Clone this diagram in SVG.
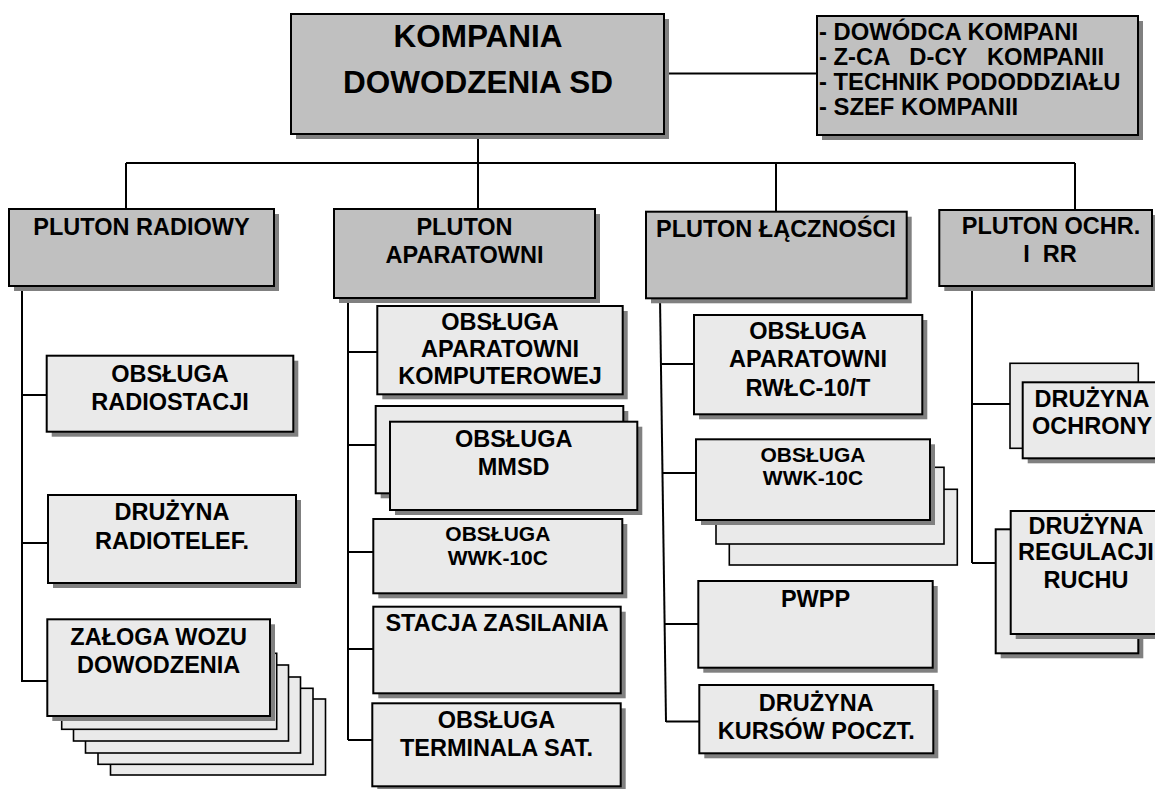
<svg xmlns="http://www.w3.org/2000/svg" width="1155" height="789" viewBox="0 0 1155 789">
<style>
.hdr{fill:#c0c0c0;stroke:#000;stroke-width:2}
.box{fill:#eaeaea;stroke:#000;stroke-width:2}
.bk{fill:#eaeaea;stroke:#000;stroke-width:1.6}
.shd{fill:#808080}
.ln{stroke:#000;stroke-width:2;fill:none}
text{font-family:"Liberation Sans",Arial,sans-serif;font-weight:bold;fill:#000;font-size:23.5px;text-anchor:middle}
.title{font-size:31.5px}
.sm{font-size:21px}
.l{text-anchor:start;font-size:23.8px}
</style>
<rect width="1155" height="789" fill="#fff"/>
<g id="connectors" class="ln">
<line x1="664" y1="73.5" x2="817" y2="73.5"/>
<line x1="478" y1="134" x2="478" y2="209"/>
<line x1="126" y1="163" x2="1075" y2="163"/>
<line x1="126" y1="163" x2="126" y2="209"/>
<line x1="776" y1="163" x2="776" y2="212"/>
<line x1="1075" y1="163" x2="1075" y2="210"/>
<line x1="22" y1="286" x2="22" y2="682"/>
<line x1="22" y1="395" x2="47" y2="395"/>
<line x1="22" y1="543" x2="48" y2="543"/>
<line x1="22" y1="681" x2="47" y2="681"/>
<line x1="348" y1="298" x2="348" y2="740"/>
<line x1="348" y1="352" x2="377" y2="352"/>
<line x1="348" y1="445" x2="376" y2="445"/>
<line x1="348" y1="552" x2="373" y2="552"/>
<line x1="348" y1="649" x2="373" y2="649"/>
<line x1="348" y1="740" x2="372" y2="740"/>
<line x1="660" y1="298" x2="666" y2="722"/>
<line x1="661.5" y1="364" x2="694" y2="364"/>
<line x1="663" y1="473" x2="696" y2="473"/>
<line x1="665" y1="624" x2="698" y2="624"/>
<line x1="666" y1="721.5" x2="699" y2="721.5"/>
<line x1="972" y1="286" x2="972" y2="563"/>
<line x1="972" y1="404" x2="1010" y2="404"/>
<line x1="972" y1="563" x2="996" y2="563"/>
</g>
<g id="kompania">
<rect class="shd" x="296" y="19" width="373" height="120"/>
<rect class="hdr" x="291" y="14" width="373" height="120"/>
<text class="title" x="478" y="46.5">KOMPANIA</text>
<text class="title" x="478" y="92.5">DOWODZENIA SD</text>
</g>
<g id="dowodztwo">
<rect class="shd" x="822" y="21" width="321" height="119"/>
<rect class="hdr" x="817" y="16" width="321" height="119"/>
<text class="l" x="819" y="39.5">- DOWÓDCA KOMPANI</text>
<text class="l" x="819" y="64.5" xml:space="preserve">- Z-CA   D-CY   KOMPANII</text>
<text class="l" x="819" y="89.5">- TECHNIK PODODDZIAŁU</text>
<text class="l" x="819" y="114.5">- SZEF KOMPANII</text>
</g>
<g id="pluton-radiowy">
<rect class="shd" x="14" y="214" width="265" height="77"/>
<rect class="hdr" x="9" y="209" width="265" height="77"/>
<text x="141.5" y="235">PLUTON RADIOWY</text>
</g>
<g id="obsluga-radiostacji">
<rect class="shd" x="51.7" y="360.7" width="246.6" height="76"/>
<rect class="box" x="46.7" y="355.7" width="246.6" height="76"/>
<text x="170" y="381.7">OBSŁUGA</text>
<text x="170" y="410">RADIOSTACJI</text>
</g>
<g id="druzyna-radiotelef">
<rect class="shd" x="53" y="500" width="248" height="88"/>
<rect class="box" x="48" y="495" width="248" height="88"/>
<text x="172" y="520">DRUŻYNA</text>
<text x="172" y="549">RADIOTELEF.</text>
</g>
<g id="zaloga-wozu">
<rect class="bk" x="110.5" y="699" width="215" height="76"/>
<rect class="bk" x="98" y="688.3" width="215" height="76"/>
<rect class="bk" x="85.5" y="677" width="215" height="76"/>
<rect class="bk" x="73.5" y="665" width="215" height="76"/>
<rect class="bk" x="61.7" y="653.3" width="215" height="76"/>
<rect class="shd" x="52.3" y="624.3" width="222.7" height="96.7"/>
<rect class="box" x="47.3" y="619.3" width="222.7" height="96.7"/>
<text x="158.7" y="645">ZAŁOGA WOZU</text>
<text x="158.7" y="672.7">DOWODZENIA</text>
</g>
<g id="pluton-aparatowni">
<rect class="shd" x="339" y="214" width="261" height="89"/>
<rect class="hdr" x="334" y="209" width="261" height="89"/>
<text x="464.5" y="235">PLUTON</text>
<text x="464.5" y="262.7">APARATOWNI</text>
</g>
<g id="obsluga-aparatowni-komputerowej">
<rect class="shd" x="382.3" y="311" width="245.4" height="88.3"/>
<rect class="box" x="377.3" y="306" width="245.4" height="88.3"/>
<text x="500" y="330">OBSŁUGA</text>
<text x="500" y="356.7">APARATOWNI</text>
<text x="500" y="384">KOMPUTEROWEJ</text>
</g>
<g id="obsluga-mmsd">
<rect class="shd" x="380.7" y="411" width="247.6" height="87.3"/>
<rect class="box" x="375.7" y="406" width="247.6" height="87.3"/>
<rect class="shd" x="395" y="426.7" width="247.3" height="88.3"/>
<rect class="box" x="390" y="421.7" width="247.3" height="88.3"/>
<text x="513.7" y="446.7">OBSŁUGA</text>
<text x="513.7" y="475">MMSD</text>
</g>
<g id="obsluga-wwk-apar">
<rect class="shd" x="378.3" y="524" width="249" height="74.3"/>
<rect class="box" x="373.3" y="519" width="249" height="74.3"/>
<text class="sm" x="497.8" y="540.7">OBSŁUGA</text>
<text class="sm" x="497.8" y="565">WWK-10C</text>
</g>
<g id="stacja-zasilania">
<rect class="shd" x="378.3" y="611.7" width="247.4" height="86.6"/>
<rect class="box" x="373.3" y="606.7" width="247.4" height="86.6"/>
<text x="497" y="631">STACJA ZASILANIA</text>
</g>
<g id="obsluga-terminala">
<rect class="shd" x="377.3" y="708.3" width="248.4" height="83"/>
<rect class="box" x="372.3" y="703.3" width="248.4" height="83"/>
<text x="496.5" y="728.3">OBSŁUGA</text>
<text x="496.5" y="756">TERMINALA SAT.</text>
</g>
<g id="pluton-lacznosci">
<rect class="shd" x="651" y="216.7" width="260.7" height="86.6"/>
<rect class="hdr" x="646" y="211.7" width="260.7" height="86.6"/>
<text x="776" y="236.7">PLUTON ŁĄCZNOŚCI</text>
</g>
<g id="obsluga-rwlc">
<rect class="shd" x="699" y="320" width="228.3" height="99.3"/>
<rect class="box" x="694" y="315" width="228.3" height="99.3"/>
<text x="808" y="339.3">OBSŁUGA</text>
<text x="808" y="367.3">APARATOWNI</text>
<text x="808" y="396">RWŁC-10/T</text>
</g>
<g id="obsluga-wwk-lacz">
<rect class="bk" x="729.3" y="489.3" width="228" height="75.7"/>
<rect class="bk" x="716" y="467.3" width="228" height="76.7"/>
<rect class="shd" x="701" y="444.3" width="234" height="80.7"/>
<rect class="box" x="696" y="439.3" width="234" height="80.7"/>
<text class="sm" x="813" y="461.7">OBSŁUGA</text>
<text class="sm" x="813" y="485">WWK-10C</text>
</g>
<g id="pwpp">
<rect class="shd" x="703.3" y="586" width="234.4" height="86.7"/>
<rect class="box" x="698.3" y="581" width="234.4" height="86.7"/>
<text x="815.5" y="606.7">PWPP</text>
</g>
<g id="druzyna-kursow">
<rect class="shd" x="704.3" y="690" width="234" height="68.3"/>
<rect class="box" x="699.3" y="685" width="234" height="68.3"/>
<text x="816.3" y="710.7">DRUŻYNA</text>
<text x="816.3" y="739.3">KURSÓW POCZT.</text>
</g>
<g id="pluton-ochr">
<rect class="shd" x="944.3" y="215" width="212.7" height="76"/>
<rect class="hdr" x="939.3" y="210" width="212.7" height="76"/>
<text x="1051" y="234.3">PLUTON OCHR.</text>
<text x="1050" y="261.7" xml:space="preserve">I  RR</text>
</g>
<g id="druzyna-ochrony">
<rect class="bk" x="1010" y="363.3" width="128.3" height="85"/>
<rect class="shd" x="1027.7" y="387.3" width="150" height="76"/>
<rect class="box" x="1022.7" y="382.3" width="150" height="76"/>
<text x="1092" y="406.7">DRUŻYNA</text>
<text x="1092" y="434">OCHRONY</text>
</g>
<g id="druzyna-regulacji">
<rect class="shd" x="1000.7" y="534.3" width="142.6" height="124"/>
<rect class="box" x="995.7" y="529.3" width="142.6" height="124"/>
<rect class="shd" x="1015.7" y="516" width="150" height="123"/>
<rect class="box" x="1010.7" y="511" width="150" height="123"/>
<text x="1086" y="534">DRUŻYNA</text>
<text x="1086" y="560">REGULACJI</text>
<text x="1086" y="588.3">RUCHU</text>
</g>
</svg>
